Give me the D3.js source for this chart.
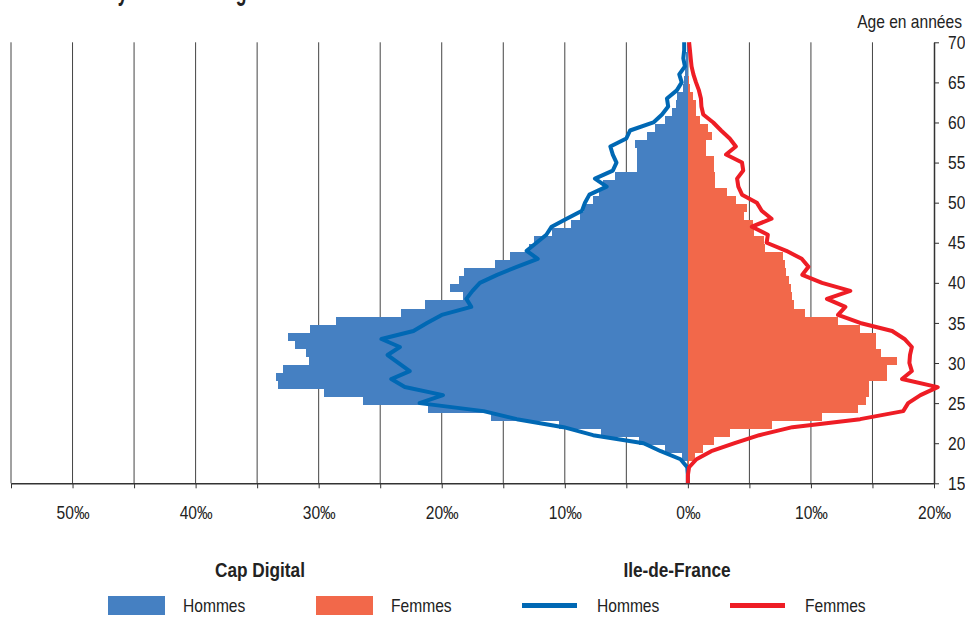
<!DOCTYPE html>
<html>
<head>
	<script src="https://cdn.jsdelivr.net/npm/d3@7"></script>
	<style>
		html, body {
			padding: 0;
			margin: 0;
			background: #fff;
		}
		svg text {
			font-family: "Liberation Sans", Arial, sans-serif;
			fill: #222;
		}
	</style>
</head>
<body>
	<script>
		// ~ ~ ~ DATA (pour mille) ~ ~ ~
		// Cap Digital, bars, one per year of age
		const BAR_AGES = [16, 17, 18, 19, 20, 21, 22, 23, 24, 25, 26, 27, 28, 29, 30, 31, 32, 33, 34, 35,
			36, 37, 38, 39, 40, 41, 42, 43, 44, 45, 46, 47, 48, 49, 50, 51, 52, 53, 54, 55,
			56, 57, 58, 59, 60, 61, 62, 63, 64, 65, 66, 67, 68, 69];
		const CAP_HOMMES = [0, 0, 0.5, 1.86, 3.97, 7.06, 10.45, 16.0, 21.1, 26.4, 29.6, 33.3, 33.5, 32.9, 30.8, 31.0, 31.9, 32.5, 30.7, 28.6,
			23.3, 21.4, 18.25, 19.3, 18.6, 18.2, 15.7, 14.45, 12.9, 12.5, 11.0, 9.5, 8.8, 8.4, 7.7, 7.2, 6.9, 5.9, 4.1, 4.1,
			4.1, 4.3, 3.3, 2.67, 1.86, 1.3, 0.97, 0.9, 0.42, 0.3, 0.2, 0.15, 0.15, 0.1];
		const CAP_FEMMES = [0, 0.1, 0.6, 1.2, 2.1, 3.4, 6.8, 10.9, 13.8, 14.5, 14.7, 14.7, 16.2, 16.2, 17.0, 15.7, 15.3, 15.3, 14.0, 12.2,
			9.5, 8.6, 8.5, 8.35, 8.2, 8.0, 7.9, 7.7, 6.3, 6.2, 5.4, 5.3, 4.6, 4.8, 3.9, 3.15, 2.2, 2.2, 2.1, 2.1,
			1.5, 1.5, 2.0, 1.6, 1.0, 0.7, 0.7, 0.45, 0.15, 0.1, 0.05, 0.05, 0.05, 0.05];

		// Ile-de-France, lines
		const LINE_AGES = [15, 16, 17, 18, 19, 20, 21, 22, 23, 24, 25, 26, 27, 28, 29, 30, 31, 32, 33, 34,
			35, 36, 37, 38, 39, 40, 41, 42, 43, 44, 45, 46, 47, 48, 49, 50, 51, 52, 53, 54,
			55, 56, 57, 58, 59, 60, 61, 62, 63, 64, 65, 66, 67, 68, 69, 70];
		const IDF_HOMMES = [0, 0, 0.05, 0.6, 2.2, 3.6, 7.7, 10.1, 13.9, 16.6, 21.8, 19.9, 23.0, 24.1, 22.6, 23.5, 24.4, 23.4, 24.9, 22.3,
			21.2, 20.0, 17.6, 18.0, 17.5, 16.9, 15.5, 13.9, 12.2, 13.1, 12.3, 11.5, 11.07, 9.85, 8.6, 8.36, 8.0, 6.6, 7.55, 6.1,
			5.8, 6.1, 6.3, 5.0, 4.7, 2.8, 2.1, 1.6, 1.7, 0.9, 0.5, 0.7, 0.24, 0.37, 0.3, 0.3];
		const IDF_FEMMES = [0, 0, 0.1, 0.7, 1.9, 3.8, 5.8, 8.5, 14.0, 17.5, 17.9, 18.9, 20.3, 17.4, 18.2, 18.0, 18.05, 18.2, 17.6, 16.6,
			14.0, 12.2, 12.8, 11.3, 13.2, 10.9, 9.3, 9.8, 9.25, 8.0, 6.4, 6.5, 5.2, 6.8, 6.0, 5.6, 4.4, 4.1, 4.0, 4.5,
			4.4, 3.1, 3.9, 3.4, 2.7, 2.06, 1.25, 1.1, 1.06, 0.9, 0.66, 0.45, 0.3, 0.23, 0.17, 0.1];

		const X_TICKS = [-55, -50, -45, -40, -35, -30, -25, -20, -15, -10, -5, 0, 5, 10, 15, 20];
		const Y_TICKS = [15, 20, 25, 30, 35, 40, 45, 50, 55, 60, 65, 70];

		const TITLE = "Pyramide des âges des salariés des établissements membres et des salariés franciliens";

		// ~ ~ ~ COLORS ~ ~ ~
		const BAR_BLUE = "#4580c2";
		const BAR_ORANGE = "#f2684a";
		const LINE_BLUE = "#0068b4";
		const LINE_RED = "#ee1d25";
		const AXIS_COLOR = "#333";

		// the source uses a narrow face; squeeze the installed sans to match
		const NARROW = 0.82;
		var condense = function(sel, k) {
			sel.each(function() {
				var w = this.getComputedTextLength();
				if (w > 0)
					d3.select(this)
						.attr("textLength", w * k)
						.attr("lengthAdjust", "spacingAndGlyphs");
			});
		};

		var width = 965, height = 617;
		var svg = d3.select('body').append('svg')
			.attr('width', width)
			.attr('height', height);

		var x = d3.scaleLinear().domain([-55, 20]).range([11, 934]);
		var y = d3.scaleLinear().domain([15, 70]).range([483.3, 42.3]);

		// title, cut at the top edge of the picture
		svg.append("text")
			.attr("x", 106)
			.attr("y", 0)
			.attr("textLength", 738)
			.attr("lengthAdjust", "spacingAndGlyphs")
			.style("font-size", "30px")
			.style("font-weight", "bold")
			.text(TITLE);

		// vertical grid
		svg.append("g").selectAll("line")
			.data(X_TICKS.filter(v => v < 20))
			.enter().append("line")
			.attr("x1", d => x(d)).attr("x2", d => x(d))
			.attr("y1", y(70)).attr("y2", y(15))
			.attr("stroke", "#444")
			.attr("stroke-width", 1);

		// bars: each age band sits slightly below the integer tick, like the source
		var bars = BAR_AGES.map((a, i) => ({ a: a, h: CAP_HOMMES[i], f: CAP_FEMMES[i] }));
		var bandTop = d => y(d.a + 0.8);
		var bandH = d => y(d.a - 0.2) - y(d.a + 0.8);

		svg.append("g").selectAll("rect")
			.data(bars)
			.enter().append("rect")
			.attr("x", d => x(-d.h))
			.attr("width", d => x(0) - x(-d.h))
			.attr("y", bandTop)
			.attr("height", bandH)
			.attr("fill", BAR_BLUE)
			.attr("shape-rendering", "crispEdges");

		svg.append("g").selectAll("rect")
			.data(bars)
			.enter().append("rect")
			.attr("x", x(0))
			.attr("width", d => x(d.f) - x(0))
			.attr("y", bandTop)
			.attr("height", bandH)
			.attr("fill", BAR_ORANGE)
			.attr("shape-rendering", "crispEdges");

		// axes
		var xAxis = d3.axisBottom(x)
			.tickValues(X_TICKS)
			.tickSize(5)
			.tickSizeOuter(0)
			.tickPadding(17)
			.tickFormat(v => v % 10 === 0 ? Math.abs(v) + "‰" : "");

		var gx = svg.append("g")
			.attr("transform", "translate(0," + y(15) + ")")
			.call(xAxis);

		var yAxis = d3.axisRight(y)
			.tickValues(Y_TICKS)
			.tickSize(5)
			.tickSizeOuter(0)
			.tickPadding(9);

		var gy = svg.append("g")
			.attr("transform", "translate(" + x(20) + ",0)")
			.call(yAxis);

		[gx, gy].forEach(function(g) {
			g.select(".domain").attr("stroke", AXIS_COLOR).attr("stroke-width", 1.5);
			g.selectAll(".tick line").attr("stroke", AXIS_COLOR);
			g.selectAll(".tick text")
				.style("font-family", '"Liberation Sans", Arial, sans-serif')
				.style("font-size", "19px")
				.attr("fill", "#222")
				.call(condense, NARROW);
		});

		svg.append("text")
			.attr("x", 962)
			.attr("y", 28)
			.attr("text-anchor", "end")
			.style("font-size", "19px")
			.text("Age en années")
			.call(condense, NARROW);

		// Ile-de-France lines
		var line = d3.line()
			.x(d => x(d.v))
			.y(d => y(d.a));

		svg.append("path")
			.datum(LINE_AGES.map((a, i) => ({ a: a, v: -IDF_HOMMES[i] })))
			.attr("d", line)
			.attr("fill", "none")
			.attr("stroke", LINE_BLUE)
			.attr("stroke-width", 4)
			.attr("stroke-linejoin", "round");

		svg.append("path")
			.datum(LINE_AGES.map((a, i) => ({ a: a, v: IDF_FEMMES[i] })))
			.attr("d", line)
			.attr("fill", "none")
			.attr("stroke", LINE_RED)
			.attr("stroke-width", 4)
			.attr("stroke-linejoin", "round");

		// legend
		var legendTitles = [
			{ label: "Cap Digital", cx: 260 },
			{ label: "Ile-de-France", cx: 677 }
		];
		svg.selectAll("text.legend-title")
			.data(legendTitles)
			.enter().append("text")
			.attr("class", "legend-title")
			.attr("x", d => d.cx)
			.attr("y", 577)
			.attr("text-anchor", "middle")
			.style("font-size", "21px")
			.style("font-weight", "bold")
			.text(d => d.label)
			.call(condense, NARROW);

		var legendItems = [
			{ kind: "rect", color: BAR_BLUE, x0: 108, label: "Hommes", tx: 183 },
			{ kind: "rect", color: BAR_ORANGE, x0: 316, label: "Femmes", tx: 391 },
			{ kind: "line", color: LINE_BLUE, x0: 522, label: "Hommes", tx: 597 },
			{ kind: "line", color: LINE_RED, x0: 730, label: "Femmes", tx: 805 }
		];

		legendItems.forEach(function(it) {
			if (it.kind === "rect") {
				svg.append("rect")
					.attr("x", it.x0).attr("y", 596)
					.attr("width", 57).attr("height", 19)
					.attr("fill", it.color);
			} else {
				svg.append("line")
					.attr("x1", it.x0).attr("x2", it.x0 + 55)
					.attr("y1", 605.5).attr("y2", 605.5)
					.attr("stroke", it.color)
					.attr("stroke-width", 5);
			}
			svg.append("text")
				.attr("x", it.tx)
				.attr("y", 612)
				.style("font-size", "19px")
				.text(it.label)
				.call(condense, NARROW);
		});
	</script>
</body>
</html>
